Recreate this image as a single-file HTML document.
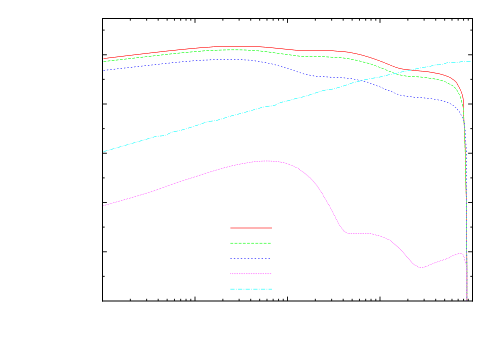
<!DOCTYPE html><html><head><meta charset="utf-8"><style>html,body{margin:0;padding:0;background:#fff;font-family:"Liberation Sans",sans-serif}svg{display:block}</style></head><body>
<svg width="500" height="350" viewBox="0 0 500 350">
<rect width="500" height="350" fill="#fff"/>
<g fill="none" stroke-width="0.60" stroke-linejoin="round">
<path d="M103.50,58.50 L106.44,58.49 L109.71,57.52 L114.78,57.49 L118.12,56.50 L122.96,56.50 L126.34,55.51 L131.34,55.50 L134.72,54.51 L139.68,54.50 L139.89,54.47 L143.13,53.51 L148.35,53.48 L151.63,52.52 L156.86,52.50 L160.42,51.50 L165.67,51.49 L169.32,50.50 L175.00,50.50 L178.82,49.51 L184.87,49.49 L189.03,48.50 L195.54,48.49 L200.00,47.50 L208.64,47.49 L210.69,47.12 L213.46,46.51 L213.64,46.50 L260.00,46.50 L262.79,46.97 L265.54,47.50 L272.19,47.51 L276.09,48.50 L281.99,48.50 L285.90,49.49 L291.93,49.50 L294.31,50.14 L296.09,50.50 L333.14,50.50 L334.76,50.95 L337.59,51.50 L345.00,51.50 L346.68,51.97 L348.14,52.48 L351.68,52.51 L353.51,53.46 L353.71,53.50 L356.49,53.52 L358.33,54.50 L360.68,54.50 L360.90,54.57 L362.24,55.49 L364.32,55.51 L365.66,56.47 L367.68,56.50 L367.86,56.56 L368.95,57.40 L369.15,57.50 L370.89,57.50 L372.12,58.50 L373.80,58.50 L373.97,58.59 L375.02,59.49 L376.60,59.50 L376.78,59.54 L377.71,60.38 L377.90,60.50 L379.33,60.50 L379.55,60.58 L380.45,61.42 L380.67,61.50 L382.09,61.50 L383.02,62.41 L383.20,62.50 L384.59,62.50 L385.61,63.50 L387.00,63.50 L387.93,64.40 L388.12,64.50 L389.34,64.50 L389.56,64.55 L390.44,65.45 L390.65,65.50 L391.79,65.50 L391.97,65.54 L392.83,66.44 L393.01,66.50 L394.34,66.50 L394.55,66.60 L395.44,67.38 L395.65,67.50 L397.30,67.50 L397.48,67.56 L398.73,68.46 L398.93,68.50 L401.28,68.50 L402.76,69.15 L403.70,69.50 L408.13,69.50 L411.86,70.49 L417.95,70.51 L420.46,71.10 L422.77,71.50 L428.14,71.52 L430.68,72.50 L433.91,72.50 L436.10,73.50 L439.12,73.50 L440.66,74.42 L440.87,74.50 L442.87,74.50 L444.15,75.50 L445.87,75.51 L447.01,76.50 L448.42,76.50 L448.60,76.60 L449.37,77.48 L450.59,77.53 L451.25,78.50 L452.00,78.50 L452.15,78.64 L452.64,79.50 L453.38,79.50 L453.89,80.37 L454.05,80.50 L454.66,80.50 L454.80,80.58 L455.24,81.50 L455.50,81.50 L455.50,81.65 L455.60,81.82 L456.39,82.18 L456.50,82.36 L456.50,83.03 L456.62,83.20 L457.49,83.86 L457.50,85.00 L458.36,85.58 L458.50,85.75 L458.50,86.56 L458.55,86.72 L459.49,87.40 L459.52,88.62 L460.43,89.37 L460.50,89.54 L460.50,90.73 L461.44,91.65 L461.50,91.85 L461.51,93.35 L462.42,94.46 L462.50,94.63 L462.50,97.00 L463.23,98.48 L463.50,99.21 L463.50,116.27 L463.64,118.64 L463.86,121.14 L464.50,126.09 L464.50,138.92 L465.07,144.43 L465.50,150.00 L465.50,181.41 L466.09,189.27 L466.50,197.20 L466.50,250.44 L466.76,265.72 L466.84,275.63 L466.75,301.00" stroke="#ff0000"/>
<path d="M103.50,61.50 L106.65,61.49 L110.12,60.51 L115.39,60.50 L118.93,59.52 L124.36,59.48 L127.78,58.52 L133.06,58.50 L136.71,57.50 L142.01,57.50 L145.57,56.50 L150.94,56.48 L154.46,55.50 L159.50,55.50 L163.13,54.50 L168.33,54.50 L172.03,53.52 L177.97,53.50 L182.05,52.50 L188.49,52.50 L193.13,51.50 L200.00,51.50 L205.00,50.50 L216.69,50.50 L220.92,50.15 L226.57,49.78 L229.64,49.65 L232.81,49.62 L238.36,49.66 L242.02,49.80 L245.89,50.08 L248.71,50.50 L257.61,50.50 L259.30,50.84 L261.99,51.50 L267.03,51.52 L270.00,52.50 L274.28,52.50 L277.21,53.50 L281.57,53.53 L284.64,54.50 L289.30,54.52 L292.19,55.49 L296.64,55.53 L300.00,56.50 L324.82,56.50 L331.78,57.49 L341.30,57.50 L343.14,57.94 L345.00,58.50 L348.91,58.51 L351.10,59.50 L353.91,59.50 L354.11,59.53 L355.89,60.46 L356.10,60.50 L358.71,60.50 L360.46,61.50 L362.59,61.53 L363.90,62.49 L366.10,62.50 L366.30,62.57 L367.97,63.50 L370.00,63.50 L371.09,64.42 L371.30,64.50 L372.85,64.50 L373.03,64.62 L373.91,65.42 L374.09,65.50 L375.62,65.52 L376.65,66.50 L378.13,66.50 L378.32,66.63 L379.13,67.41 L379.34,67.50 L380.66,67.50 L380.88,67.60 L381.70,68.40 L381.89,68.50 L383.19,68.50 L383.37,68.56 L384.24,69.43 L384.41,69.50 L385.77,69.50 L386.82,70.50 L388.12,70.50 L388.31,70.55 L389.13,71.37 L389.34,71.50 L390.65,71.50 L390.86,71.63 L391.61,72.42 L391.79,72.50 L393.01,72.50 L393.18,72.57 L394.13,73.48 L395.88,73.50 L397.21,74.48 L399.53,74.50 L401.29,75.50 L404.31,75.50 L406.09,76.13 L407.40,76.50 L416.83,76.50 L419.76,76.96 L422.41,77.50 L427.05,77.52 L429.32,78.49 L433.91,78.53 L435.90,79.44 L436.11,79.50 L438.52,79.50 L440.00,80.50 L442.36,80.52 L443.59,81.44 L443.78,81.50 L445.22,81.50 L446.02,82.36 L446.20,82.50 L447.22,82.50 L447.38,82.58 L448.01,83.47 L449.02,83.50 L449.21,83.66 L449.79,84.47 L450.96,84.50 L451.79,85.50 L452.63,85.50 L452.81,85.64 L453.19,86.37 L453.36,86.50 L454.00,86.54 L454.42,87.48 L454.55,87.50 L454.50,87.45 L454.53,87.58 L455.48,87.99 L455.50,88.63 L455.64,88.81 L456.35,89.19 L456.50,89.37 L456.50,90.07 L457.50,90.71 L457.50,91.65 L458.50,92.47 L458.50,93.58 L459.50,94.43 L459.50,95.58 L459.57,95.76 L460.46,96.63 L460.50,96.80 L460.50,98.33 L461.50,99.67 L461.50,102.13 L461.76,102.70 L462.50,104.00 L462.50,106.17 L462.55,106.35 L463.50,108.00 L463.50,116.87 L463.80,120.47 L464.50,125.90 L464.51,140.36 L465.06,147.28 L465.50,154.20 L465.50,181.23 L466.09,189.27 L466.50,197.20 L466.50,250.44 L466.76,265.72 L466.84,275.63 L466.75,301.00" stroke="#fff" stroke-width="0.90" stroke-dasharray="2.78,1.39"/>
<path d="M103.50,61.50 L106.65,61.49 L110.12,60.51 L115.39,60.50 L118.93,59.52 L124.36,59.48 L127.78,58.52 L133.06,58.50 L136.71,57.50 L142.01,57.50 L145.57,56.50 L150.94,56.48 L154.46,55.50 L159.50,55.50 L163.13,54.50 L168.33,54.50 L172.03,53.52 L177.97,53.50 L182.05,52.50 L188.49,52.50 L193.13,51.50 L200.00,51.50 L205.00,50.50 L216.69,50.50 L220.92,50.15 L226.57,49.78 L229.64,49.65 L232.81,49.62 L238.36,49.66 L242.02,49.80 L245.89,50.08 L248.71,50.50 L257.61,50.50 L259.30,50.84 L261.99,51.50 L267.03,51.52 L270.00,52.50 L274.28,52.50 L277.21,53.50 L281.57,53.53 L284.64,54.50 L289.30,54.52 L292.19,55.49 L296.64,55.53 L300.00,56.50 L324.82,56.50 L331.78,57.49 L341.30,57.50 L343.14,57.94 L345.00,58.50 L348.91,58.51 L351.10,59.50 L353.91,59.50 L354.11,59.53 L355.89,60.46 L356.10,60.50 L358.71,60.50 L360.46,61.50 L362.59,61.53 L363.90,62.49 L366.10,62.50 L366.30,62.57 L367.97,63.50 L370.00,63.50 L371.09,64.42 L371.30,64.50 L372.85,64.50 L373.03,64.62 L373.91,65.42 L374.09,65.50 L375.62,65.52 L376.65,66.50 L378.13,66.50 L378.32,66.63 L379.13,67.41 L379.34,67.50 L380.66,67.50 L380.88,67.60 L381.70,68.40 L381.89,68.50 L383.19,68.50 L383.37,68.56 L384.24,69.43 L384.41,69.50 L385.77,69.50 L386.82,70.50 L388.12,70.50 L388.31,70.55 L389.13,71.37 L389.34,71.50 L390.65,71.50 L390.86,71.63 L391.61,72.42 L391.79,72.50 L393.01,72.50 L393.18,72.57 L394.13,73.48 L395.88,73.50 L397.21,74.48 L399.53,74.50 L401.29,75.50 L404.31,75.50 L406.09,76.13 L407.40,76.50 L416.83,76.50 L419.76,76.96 L422.41,77.50 L427.05,77.52 L429.32,78.49 L433.91,78.53 L435.90,79.44 L436.11,79.50 L438.52,79.50 L440.00,80.50 L442.36,80.52 L443.59,81.44 L443.78,81.50 L445.22,81.50 L446.02,82.36 L446.20,82.50 L447.22,82.50 L447.38,82.58 L448.01,83.47 L449.02,83.50 L449.21,83.66 L449.79,84.47 L450.96,84.50 L451.79,85.50 L452.63,85.50 L452.81,85.64 L453.19,86.37 L453.36,86.50 L454.00,86.54 L454.42,87.48 L454.55,87.50 L454.50,87.45 L454.53,87.58 L455.48,87.99 L455.50,88.63 L455.64,88.81 L456.35,89.19 L456.50,89.37 L456.50,90.07 L457.50,90.71 L457.50,91.65 L458.50,92.47 L458.50,93.58 L459.50,94.43 L459.50,95.58 L459.57,95.76 L460.46,96.63 L460.50,96.80 L460.50,98.33 L461.50,99.67 L461.50,102.13 L461.76,102.70 L462.50,104.00 L462.50,106.17 L462.55,106.35 L463.50,108.00 L463.50,116.87 L463.80,120.47 L464.50,125.90 L464.51,140.36 L465.06,147.28 L465.50,154.20 L465.50,181.23 L466.09,189.27 L466.50,197.20 L466.50,250.44 L466.76,265.72 L466.84,275.63 L466.75,301.00" stroke="#00ff00" stroke-dasharray="2.78,1.39"/>
<path d="M103.50,70.50 L105.28,70.50 L108.97,69.50 L114.27,69.48 L117.81,68.50 L123.04,68.50 L126.63,67.51 L132.06,67.49 L135.68,66.50 L140.92,66.50 L144.66,65.50 L150.00,65.50 L153.61,64.50 L158.95,64.50 L162.59,63.50 L168.13,63.49 L172.03,62.50 L177.97,62.50 L182.25,61.50 L188.85,61.50 L193.72,60.50 L201.55,60.50 L203.09,60.35 L207.53,60.05 L209.33,59.82 L211.23,59.50 L242.95,59.50 L245.24,59.91 L248.33,60.18 L250.00,60.50 L254.51,60.50 L257.00,61.50 L260.59,61.50 L262.88,62.50 L266.28,62.50 L268.49,63.49 L271.27,63.50 L271.46,63.57 L272.93,64.50 L275.08,64.50 L276.57,65.50 L278.54,65.50 L278.73,65.55 L280.00,66.50 L281.92,66.50 L282.12,66.59 L283.25,67.44 L283.43,67.50 L285.18,67.50 L285.36,67.56 L286.59,68.50 L288.49,68.53 L289.55,69.38 L289.77,69.50 L291.52,69.50 L292.69,70.48 L294.49,70.51 L295.52,71.41 L295.70,71.50 L297.31,71.50 L298.48,72.47 L300.22,72.50 L300.43,72.62 L301.38,73.46 L301.56,73.50 L303.15,73.50 L303.35,73.57 L304.46,74.28 L304.89,74.50 L307.72,74.50 L310.00,75.50 L313.04,75.50 L314.49,76.15 L315.46,76.50 L325.00,76.50 L331.00,77.50 L342.76,77.50 L344.60,77.86 L347.23,78.50 L352.19,78.52 L354.54,79.50 L357.24,79.51 L358.71,80.47 L361.33,80.50 L361.54,80.55 L363.61,81.50 L366.32,81.52 L367.67,82.50 L369.18,82.50 L370.04,83.41 L370.21,83.50 L371.34,83.50 L371.55,83.56 L372.44,84.43 L372.64,84.50 L374.10,84.50 L375.27,85.50 L376.90,85.50 L377.08,85.59 L378.16,86.50 L379.81,86.50 L380.85,87.50 L382.22,87.50 L382.99,88.46 L383.16,88.50 L384.00,88.50 L384.18,88.55 L385.00,89.50 L386.39,89.50 L386.56,89.54 L387.65,90.49 L389.36,90.52 L390.46,91.49 L391.93,91.50 L392.12,91.67 L392.84,92.50 L394.01,92.50 L394.19,92.62 L395.00,93.50 L396.39,93.50 L396.56,93.55 L397.65,94.50 L399.35,94.50 L400.63,95.46 L400.83,95.50 L403.71,95.52 L406.28,96.49 L411.11,96.50 L412.24,96.83 L413.84,97.47 L414.03,97.50 L422.89,97.50 L426.39,98.50 L431.61,98.50 L431.82,98.52 L432.50,98.75 L434.35,99.49 L437.47,99.50 L437.66,99.54 L439.50,100.50 L442.12,100.50 L442.32,100.55 L443.67,101.48 L445.35,101.50 L445.55,101.59 L446.45,102.41 L446.66,102.50 L448.12,102.50 L449.07,103.50 L450.33,103.50 L451.21,104.50 L452.10,104.50 L452.29,104.66 L452.69,105.32 L452.88,105.50 L453.51,105.50 L453.65,105.58 L454.07,106.45 L454.21,106.50 L454.66,106.50 L454.83,106.61 L455.18,107.39 L455.35,107.50 L455.81,107.50 L455.95,107.61 L456.36,108.50 L456.63,108.50 L456.50,108.61 L457.47,109.06 L457.52,109.75 L458.50,110.21 L458.50,110.95 L459.31,111.44 L459.50,111.61 L459.50,112.39 L459.66,112.57 L460.41,113.08 L460.50,113.24 L460.50,114.28 L461.50,115.12 L461.50,116.58 L462.50,117.41 L462.50,118.25 L462.64,118.40 L463.38,118.90 L463.50,119.08 L463.50,120.58 L464.14,121.73 L464.47,122.48 L464.50,122.68 L464.52,127.27 L464.99,129.27 L465.50,132.00 L465.51,141.36 L466.03,145.45 L466.50,150.00 L466.50,251.22 L466.71,262.41 L466.82,272.69 L466.75,301.00" stroke="#fff" stroke-width="0.90" stroke-dasharray="1.39,2.08"/>
<path d="M103.50,70.50 L105.28,70.50 L108.97,69.50 L114.27,69.48 L117.81,68.50 L123.04,68.50 L126.63,67.51 L132.06,67.49 L135.68,66.50 L140.92,66.50 L144.66,65.50 L150.00,65.50 L153.61,64.50 L158.95,64.50 L162.59,63.50 L168.13,63.49 L172.03,62.50 L177.97,62.50 L182.25,61.50 L188.85,61.50 L193.72,60.50 L201.55,60.50 L203.09,60.35 L207.53,60.05 L209.33,59.82 L211.23,59.50 L242.95,59.50 L245.24,59.91 L248.33,60.18 L250.00,60.50 L254.51,60.50 L257.00,61.50 L260.59,61.50 L262.88,62.50 L266.28,62.50 L268.49,63.49 L271.27,63.50 L271.46,63.57 L272.93,64.50 L275.08,64.50 L276.57,65.50 L278.54,65.50 L278.73,65.55 L280.00,66.50 L281.92,66.50 L282.12,66.59 L283.25,67.44 L283.43,67.50 L285.18,67.50 L285.36,67.56 L286.59,68.50 L288.49,68.53 L289.55,69.38 L289.77,69.50 L291.52,69.50 L292.69,70.48 L294.49,70.51 L295.52,71.41 L295.70,71.50 L297.31,71.50 L298.48,72.47 L300.22,72.50 L300.43,72.62 L301.38,73.46 L301.56,73.50 L303.15,73.50 L303.35,73.57 L304.46,74.28 L304.89,74.50 L307.72,74.50 L310.00,75.50 L313.04,75.50 L314.49,76.15 L315.46,76.50 L325.00,76.50 L331.00,77.50 L342.76,77.50 L344.60,77.86 L347.23,78.50 L352.19,78.52 L354.54,79.50 L357.24,79.51 L358.71,80.47 L361.33,80.50 L361.54,80.55 L363.61,81.50 L366.32,81.52 L367.67,82.50 L369.18,82.50 L370.04,83.41 L370.21,83.50 L371.34,83.50 L371.55,83.56 L372.44,84.43 L372.64,84.50 L374.10,84.50 L375.27,85.50 L376.90,85.50 L377.08,85.59 L378.16,86.50 L379.81,86.50 L380.85,87.50 L382.22,87.50 L382.99,88.46 L383.16,88.50 L384.00,88.50 L384.18,88.55 L385.00,89.50 L386.39,89.50 L386.56,89.54 L387.65,90.49 L389.36,90.52 L390.46,91.49 L391.93,91.50 L392.12,91.67 L392.84,92.50 L394.01,92.50 L394.19,92.62 L395.00,93.50 L396.39,93.50 L396.56,93.55 L397.65,94.50 L399.35,94.50 L400.63,95.46 L400.83,95.50 L403.71,95.52 L406.28,96.49 L411.11,96.50 L412.24,96.83 L413.84,97.47 L414.03,97.50 L422.89,97.50 L426.39,98.50 L431.61,98.50 L431.82,98.52 L432.50,98.75 L434.35,99.49 L437.47,99.50 L437.66,99.54 L439.50,100.50 L442.12,100.50 L442.32,100.55 L443.67,101.48 L445.35,101.50 L445.55,101.59 L446.45,102.41 L446.66,102.50 L448.12,102.50 L449.07,103.50 L450.33,103.50 L451.21,104.50 L452.10,104.50 L452.29,104.66 L452.69,105.32 L452.88,105.50 L453.51,105.50 L453.65,105.58 L454.07,106.45 L454.21,106.50 L454.66,106.50 L454.83,106.61 L455.18,107.39 L455.35,107.50 L455.81,107.50 L455.95,107.61 L456.36,108.50 L456.63,108.50 L456.50,108.61 L457.47,109.06 L457.52,109.75 L458.50,110.21 L458.50,110.95 L459.31,111.44 L459.50,111.61 L459.50,112.39 L459.66,112.57 L460.41,113.08 L460.50,113.24 L460.50,114.28 L461.50,115.12 L461.50,116.58 L462.50,117.41 L462.50,118.25 L462.64,118.40 L463.38,118.90 L463.50,119.08 L463.50,120.58 L464.14,121.73 L464.47,122.48 L464.50,122.68 L464.52,127.27 L464.99,129.27 L465.50,132.00 L465.51,141.36 L466.03,145.45 L466.50,150.00 L466.50,251.22 L466.71,262.41 L466.82,272.69 L466.75,301.00" stroke="#0000ff" stroke-dasharray="1.39,2.08"/>
<path d="M103.50,205.50 L105.03,205.50 L106.35,204.56 L106.54,204.50 L108.40,204.50 L108.59,204.45 L109.88,203.53 L111.89,203.50 L112.08,203.46 L113.35,202.56 L113.53,202.50 L115.52,202.50 L116.96,201.51 L119.11,201.49 L120.55,200.50 L122.54,200.50 L122.72,200.44 L123.99,199.54 L124.17,199.50 L126.18,199.48 L127.47,198.56 L127.65,198.50 L129.51,198.50 L129.70,198.46 L131.01,197.51 L133.11,197.49 L134.46,196.50 L136.42,196.50 L136.62,196.42 L137.81,195.53 L139.84,195.50 L141.07,194.60 L141.28,194.50 L143.17,194.50 L144.45,193.54 L144.67,193.50 L146.41,193.50 L147.74,192.51 L149.54,192.50 L149.77,192.43 L150.91,191.54 L151.13,191.50 L152.85,191.48 L154.07,190.50 L155.83,190.48 L156.95,189.51 L158.57,189.50 L158.75,189.42 L159.80,188.50 L161.34,188.50 L161.51,188.41 L162.53,187.50 L164.06,187.50 L164.23,187.39 L165.09,186.60 L165.26,186.50 L166.83,186.48 L167.91,185.50 L169.59,185.47 L170.56,184.60 L170.76,184.50 L172.38,184.50 L173.44,183.58 L173.66,183.50 L175.23,183.50 L175.45,183.37 L176.34,182.62 L176.56,182.50 L178.24,182.50 L179.45,181.53 L181.19,181.50 L181.37,181.44 L182.48,180.53 L184.28,180.50 L184.45,180.43 L185.50,179.59 L185.67,179.50 L187.40,179.50 L187.57,179.43 L188.78,178.50 L190.52,178.50 L190.69,178.44 L191.76,177.59 L191.94,177.50 L193.79,177.48 L194.94,176.56 L195.14,176.50 L196.74,176.50 L196.95,176.45 L198.01,175.61 L198.22,175.50 L200.00,175.50 L201.10,174.61 L201.31,174.50 L203.05,174.50 L204.30,173.52 L206.22,173.48 L207.50,172.50 L209.33,172.50 L210.67,171.50 L212.49,171.50 L212.68,171.43 L213.77,170.59 L213.95,170.50 L215.86,170.50 L217.12,169.58 L217.30,169.50 L219.32,169.48 L220.68,168.51 L222.73,168.50 L222.91,168.43 L224.19,167.53 L226.50,167.46 L228.04,166.50 L230.46,166.47 L231.94,165.57 L232.14,165.50 L234.54,165.50 L234.72,165.47 L236.50,164.51 L239.54,164.48 L241.57,163.50 L244.99,163.50 L247.60,162.50 L251.09,162.50 L253.51,161.50 L260.00,161.50 L262.05,161.22 L263.51,161.08 L265.89,160.97 L267.77,160.97 L270.46,161.17 L272.77,161.50 L278.71,161.51 L281.30,162.50 L284.12,162.50 L284.33,162.56 L285.67,163.46 L285.87,163.50 L287.53,163.50 L287.70,163.57 L288.58,164.38 L288.77,164.50 L290.22,164.50 L291.23,165.46 L291.41,165.50 L292.61,165.50 L292.78,165.60 L293.46,166.38 L293.64,166.50 L294.79,166.50 L295.63,167.50 L296.73,167.50 L296.89,167.65 L297.55,168.50 L298.53,168.50 L298.70,168.68 L299.23,169.50 L300.00,169.50 L300.20,169.58 L300.76,170.50 L301.59,170.50 L302.05,171.32 L302.20,171.50 L302.92,171.50 L303.36,172.37 L303.51,172.50 L304.13,172.50 L304.64,173.50 L305.37,173.51 L305.88,174.50 L306.50,174.50 L306.65,174.71 L306.94,175.33 L307.08,175.50 L307.63,175.50 L307.77,175.66 L308.18,176.50 L308.74,176.50 L309.19,177.50 L309.66,177.50 L309.83,177.57 L310.00,178.00 L310.42,178.17 L310.50,178.33 L310.50,178.80 L311.50,179.25 L311.50,179.81 L312.36,180.21 L312.50,180.35 L312.50,180.88 L313.50,181.43 L313.50,182.01 L313.68,182.16 L314.34,182.47 L314.50,182.63 L314.50,183.14 L314.62,183.32 L315.38,183.68 L315.50,183.86 L315.50,184.37 L315.65,184.53 L316.31,184.85 L316.50,185.01 L316.50,185.60 L316.66,185.75 L317.50,186.18 L317.50,186.88 L318.50,187.46 L318.50,188.23 L319.31,188.72 L319.50,188.89 L319.50,189.61 L319.67,189.80 L320.33,190.20 L320.50,190.39 L320.50,191.15 L320.65,191.33 L321.47,191.85 L321.50,192.85 L322.41,193.49 L322.50,193.65 L322.50,194.60 L323.37,195.24 L323.50,195.41 L323.51,196.41 L324.50,197.13 L324.50,198.09 L324.70,198.29 L325.30,198.71 L325.50,198.91 L325.52,199.86 L326.31,200.39 L326.50,200.57 L326.50,201.39 L326.56,201.55 L327.50,202.19 L327.50,203.12 L327.65,203.28 L328.36,203.75 L328.50,203.91 L328.50,204.74 L328.55,204.91 L329.31,205.44 L329.50,205.62 L329.50,206.59 L330.50,207.41 L330.50,208.39 L330.65,208.58 L331.38,209.12 L331.50,209.30 L331.50,210.32 L332.50,211.14 L332.50,212.26 L333.50,213.08 L333.52,214.28 L334.44,215.00 L334.50,215.19 L334.50,216.18 L335.50,217.03 L335.50,218.13 L336.50,218.97 L336.50,220.08 L337.50,220.92 L337.50,222.04 L338.36,222.72 L338.50,222.88 L338.50,223.85 L338.57,224.01 L339.50,224.69 L339.50,225.60 L339.68,225.80 L340.31,226.20 L340.50,226.39 L340.52,227.25 L341.50,227.86 L341.50,228.59 L342.35,229.03 L342.50,229.18 L342.50,229.66 L342.60,229.83 L343.41,230.18 L343.50,230.34 L343.50,230.65 L343.76,230.50 L344.19,231.47 L344.92,231.50 L345.42,232.32 L345.60,232.50 L346.40,232.50 L346.58,232.57 L347.28,233.31 L347.46,233.45 L347.65,233.50 L371.60,233.50 L371.78,233.58 L373.00,234.50 L375.18,234.50 L376.54,235.45 L376.76,235.50 L379.35,235.51 L380.45,236.39 L380.67,236.50 L382.18,236.50 L383.23,237.50 L384.56,237.51 L385.44,238.49 L386.79,238.50 L387.65,239.44 L387.81,239.50 L388.85,239.50 L389.40,240.31 L389.60,240.50 L390.39,240.50 L390.57,240.71 L390.92,241.32 L391.09,241.50 L391.72,241.50 L391.86,241.58 L392.29,242.44 L392.43,242.50 L392.98,242.50 L393.12,242.70 L393.40,243.31 L393.55,243.50 L394.15,243.50 L394.64,244.50 L395.35,244.50 L395.82,245.50 L396.38,245.50 L396.51,245.58 L396.92,246.50 L397.50,246.50 L397.66,246.72 L398.00,247.50 L398.66,247.50 L399.08,248.36 L399.23,248.50 L399.67,248.50 L399.83,248.58 L400.00,249.00 L400.43,249.17 L400.50,249.34 L400.50,249.80 L401.50,250.23 L401.50,250.79 L401.61,250.93 L402.27,251.21 L402.50,251.36 L402.50,251.85 L402.59,252.02 L403.40,252.37 L403.50,252.54 L403.50,252.99 L403.57,253.13 L404.47,253.55 L404.50,254.15 L404.62,254.32 L405.38,254.68 L405.50,254.85 L405.50,255.33 L405.59,255.48 L406.50,255.91 L406.50,256.60 L407.38,257.03 L407.50,257.18 L407.50,257.65 L407.61,257.82 L408.39,258.18 L408.50,258.35 L408.50,258.85 L408.70,259.02 L409.35,259.33 L409.50,259.48 L409.50,260.07 L409.69,260.22 L410.50,260.64 L410.50,261.19 L410.55,261.33 L411.48,261.74 L411.50,262.30 L411.87,262.50 L412.17,262.50 L412.32,262.71 L412.65,263.47 L413.36,263.54 L413.71,264.27 L413.87,264.50 L414.51,264.50 L414.67,264.67 L415.13,265.49 L416.09,265.50 L416.79,266.47 L418.00,266.50 L418.84,267.44 L419.04,267.50 L423.88,267.50 L424.05,267.45 L425.16,266.51 L426.65,266.50 L426.86,266.45 L427.82,265.50 L429.02,265.50 L429.18,265.47 L430.01,264.51 L431.20,264.50 L431.38,264.43 L432.15,263.61 L432.36,263.50 L433.65,263.50 L433.85,263.42 L434.82,262.51 L436.40,262.50 L436.57,262.45 L437.61,261.56 L437.79,261.50 L439.34,261.50 L439.56,261.39 L440.45,260.61 L440.67,260.50 L442.45,260.49 L443.70,259.51 L445.34,259.50 L445.53,259.44 L446.56,258.50 L447.84,258.50 L448.04,258.35 L448.77,257.50 L449.77,257.50 L449.93,257.41 L450.57,256.52 L451.60,256.50 L451.78,256.43 L452.57,255.50 L453.82,255.50 L454.01,255.43 L454.90,254.59 L455.07,254.50 L456.75,254.50 L456.97,254.42 L458.06,253.52 L461.52,253.50 L461.69,253.61 L462.23,254.34 L462.41,254.50 L462.78,254.50 L462.82,254.70 L463.41,255.01 L463.50,255.17 L463.50,256.50 L464.28,257.27 L464.43,257.45 L464.50,257.62 L464.53,260.17 L465.00,261.00 L465.49,261.63 L465.50,263.26 L466.49,264.96 L466.50,272.00 L466.70,275.64 L466.76,281.18 L466.75,301.00" stroke="#fff" stroke-width="0.90" stroke-dasharray="0.69,1.04"/>
<path d="M103.50,205.50 L105.03,205.50 L106.35,204.56 L106.54,204.50 L108.40,204.50 L108.59,204.45 L109.88,203.53 L111.89,203.50 L112.08,203.46 L113.35,202.56 L113.53,202.50 L115.52,202.50 L116.96,201.51 L119.11,201.49 L120.55,200.50 L122.54,200.50 L122.72,200.44 L123.99,199.54 L124.17,199.50 L126.18,199.48 L127.47,198.56 L127.65,198.50 L129.51,198.50 L129.70,198.46 L131.01,197.51 L133.11,197.49 L134.46,196.50 L136.42,196.50 L136.62,196.42 L137.81,195.53 L139.84,195.50 L141.07,194.60 L141.28,194.50 L143.17,194.50 L144.45,193.54 L144.67,193.50 L146.41,193.50 L147.74,192.51 L149.54,192.50 L149.77,192.43 L150.91,191.54 L151.13,191.50 L152.85,191.48 L154.07,190.50 L155.83,190.48 L156.95,189.51 L158.57,189.50 L158.75,189.42 L159.80,188.50 L161.34,188.50 L161.51,188.41 L162.53,187.50 L164.06,187.50 L164.23,187.39 L165.09,186.60 L165.26,186.50 L166.83,186.48 L167.91,185.50 L169.59,185.47 L170.56,184.60 L170.76,184.50 L172.38,184.50 L173.44,183.58 L173.66,183.50 L175.23,183.50 L175.45,183.37 L176.34,182.62 L176.56,182.50 L178.24,182.50 L179.45,181.53 L181.19,181.50 L181.37,181.44 L182.48,180.53 L184.28,180.50 L184.45,180.43 L185.50,179.59 L185.67,179.50 L187.40,179.50 L187.57,179.43 L188.78,178.50 L190.52,178.50 L190.69,178.44 L191.76,177.59 L191.94,177.50 L193.79,177.48 L194.94,176.56 L195.14,176.50 L196.74,176.50 L196.95,176.45 L198.01,175.61 L198.22,175.50 L200.00,175.50 L201.10,174.61 L201.31,174.50 L203.05,174.50 L204.30,173.52 L206.22,173.48 L207.50,172.50 L209.33,172.50 L210.67,171.50 L212.49,171.50 L212.68,171.43 L213.77,170.59 L213.95,170.50 L215.86,170.50 L217.12,169.58 L217.30,169.50 L219.32,169.48 L220.68,168.51 L222.73,168.50 L222.91,168.43 L224.19,167.53 L226.50,167.46 L228.04,166.50 L230.46,166.47 L231.94,165.57 L232.14,165.50 L234.54,165.50 L234.72,165.47 L236.50,164.51 L239.54,164.48 L241.57,163.50 L244.99,163.50 L247.60,162.50 L251.09,162.50 L253.51,161.50 L260.00,161.50 L262.05,161.22 L263.51,161.08 L265.89,160.97 L267.77,160.97 L270.46,161.17 L272.77,161.50 L278.71,161.51 L281.30,162.50 L284.12,162.50 L284.33,162.56 L285.67,163.46 L285.87,163.50 L287.53,163.50 L287.70,163.57 L288.58,164.38 L288.77,164.50 L290.22,164.50 L291.23,165.46 L291.41,165.50 L292.61,165.50 L292.78,165.60 L293.46,166.38 L293.64,166.50 L294.79,166.50 L295.63,167.50 L296.73,167.50 L296.89,167.65 L297.55,168.50 L298.53,168.50 L298.70,168.68 L299.23,169.50 L300.00,169.50 L300.20,169.58 L300.76,170.50 L301.59,170.50 L302.05,171.32 L302.20,171.50 L302.92,171.50 L303.36,172.37 L303.51,172.50 L304.13,172.50 L304.64,173.50 L305.37,173.51 L305.88,174.50 L306.50,174.50 L306.65,174.71 L306.94,175.33 L307.08,175.50 L307.63,175.50 L307.77,175.66 L308.18,176.50 L308.74,176.50 L309.19,177.50 L309.66,177.50 L309.83,177.57 L310.00,178.00 L310.42,178.17 L310.50,178.33 L310.50,178.80 L311.50,179.25 L311.50,179.81 L312.36,180.21 L312.50,180.35 L312.50,180.88 L313.50,181.43 L313.50,182.01 L313.68,182.16 L314.34,182.47 L314.50,182.63 L314.50,183.14 L314.62,183.32 L315.38,183.68 L315.50,183.86 L315.50,184.37 L315.65,184.53 L316.31,184.85 L316.50,185.01 L316.50,185.60 L316.66,185.75 L317.50,186.18 L317.50,186.88 L318.50,187.46 L318.50,188.23 L319.31,188.72 L319.50,188.89 L319.50,189.61 L319.67,189.80 L320.33,190.20 L320.50,190.39 L320.50,191.15 L320.65,191.33 L321.47,191.85 L321.50,192.85 L322.41,193.49 L322.50,193.65 L322.50,194.60 L323.37,195.24 L323.50,195.41 L323.51,196.41 L324.50,197.13 L324.50,198.09 L324.70,198.29 L325.30,198.71 L325.50,198.91 L325.52,199.86 L326.31,200.39 L326.50,200.57 L326.50,201.39 L326.56,201.55 L327.50,202.19 L327.50,203.12 L327.65,203.28 L328.36,203.75 L328.50,203.91 L328.50,204.74 L328.55,204.91 L329.31,205.44 L329.50,205.62 L329.50,206.59 L330.50,207.41 L330.50,208.39 L330.65,208.58 L331.38,209.12 L331.50,209.30 L331.50,210.32 L332.50,211.14 L332.50,212.26 L333.50,213.08 L333.52,214.28 L334.44,215.00 L334.50,215.19 L334.50,216.18 L335.50,217.03 L335.50,218.13 L336.50,218.97 L336.50,220.08 L337.50,220.92 L337.50,222.04 L338.36,222.72 L338.50,222.88 L338.50,223.85 L338.57,224.01 L339.50,224.69 L339.50,225.60 L339.68,225.80 L340.31,226.20 L340.50,226.39 L340.52,227.25 L341.50,227.86 L341.50,228.59 L342.35,229.03 L342.50,229.18 L342.50,229.66 L342.60,229.83 L343.41,230.18 L343.50,230.34 L343.50,230.65 L343.76,230.50 L344.19,231.47 L344.92,231.50 L345.42,232.32 L345.60,232.50 L346.40,232.50 L346.58,232.57 L347.28,233.31 L347.46,233.45 L347.65,233.50 L371.60,233.50 L371.78,233.58 L373.00,234.50 L375.18,234.50 L376.54,235.45 L376.76,235.50 L379.35,235.51 L380.45,236.39 L380.67,236.50 L382.18,236.50 L383.23,237.50 L384.56,237.51 L385.44,238.49 L386.79,238.50 L387.65,239.44 L387.81,239.50 L388.85,239.50 L389.40,240.31 L389.60,240.50 L390.39,240.50 L390.57,240.71 L390.92,241.32 L391.09,241.50 L391.72,241.50 L391.86,241.58 L392.29,242.44 L392.43,242.50 L392.98,242.50 L393.12,242.70 L393.40,243.31 L393.55,243.50 L394.15,243.50 L394.64,244.50 L395.35,244.50 L395.82,245.50 L396.38,245.50 L396.51,245.58 L396.92,246.50 L397.50,246.50 L397.66,246.72 L398.00,247.50 L398.66,247.50 L399.08,248.36 L399.23,248.50 L399.67,248.50 L399.83,248.58 L400.00,249.00 L400.43,249.17 L400.50,249.34 L400.50,249.80 L401.50,250.23 L401.50,250.79 L401.61,250.93 L402.27,251.21 L402.50,251.36 L402.50,251.85 L402.59,252.02 L403.40,252.37 L403.50,252.54 L403.50,252.99 L403.57,253.13 L404.47,253.55 L404.50,254.15 L404.62,254.32 L405.38,254.68 L405.50,254.85 L405.50,255.33 L405.59,255.48 L406.50,255.91 L406.50,256.60 L407.38,257.03 L407.50,257.18 L407.50,257.65 L407.61,257.82 L408.39,258.18 L408.50,258.35 L408.50,258.85 L408.70,259.02 L409.35,259.33 L409.50,259.48 L409.50,260.07 L409.69,260.22 L410.50,260.64 L410.50,261.19 L410.55,261.33 L411.48,261.74 L411.50,262.30 L411.87,262.50 L412.17,262.50 L412.32,262.71 L412.65,263.47 L413.36,263.54 L413.71,264.27 L413.87,264.50 L414.51,264.50 L414.67,264.67 L415.13,265.49 L416.09,265.50 L416.79,266.47 L418.00,266.50 L418.84,267.44 L419.04,267.50 L423.88,267.50 L424.05,267.45 L425.16,266.51 L426.65,266.50 L426.86,266.45 L427.82,265.50 L429.02,265.50 L429.18,265.47 L430.01,264.51 L431.20,264.50 L431.38,264.43 L432.15,263.61 L432.36,263.50 L433.65,263.50 L433.85,263.42 L434.82,262.51 L436.40,262.50 L436.57,262.45 L437.61,261.56 L437.79,261.50 L439.34,261.50 L439.56,261.39 L440.45,260.61 L440.67,260.50 L442.45,260.49 L443.70,259.51 L445.34,259.50 L445.53,259.44 L446.56,258.50 L447.84,258.50 L448.04,258.35 L448.77,257.50 L449.77,257.50 L449.93,257.41 L450.57,256.52 L451.60,256.50 L451.78,256.43 L452.57,255.50 L453.82,255.50 L454.01,255.43 L454.90,254.59 L455.07,254.50 L456.75,254.50 L456.97,254.42 L458.06,253.52 L461.52,253.50 L461.69,253.61 L462.23,254.34 L462.41,254.50 L462.78,254.50 L462.82,254.70 L463.41,255.01 L463.50,255.17 L463.50,256.50 L464.28,257.27 L464.43,257.45 L464.50,257.62 L464.53,260.17 L465.00,261.00 L465.49,261.63 L465.50,263.26 L466.49,264.96 L466.50,272.00 L466.70,275.64 L466.76,281.18 L466.75,301.00" stroke="#ff00ff" stroke-dasharray="0.69,1.04"/>
<path d="M103.50,151.50 L105.03,151.50 L106.36,150.56 L106.55,150.50 L108.43,150.50 L108.62,150.42 L109.93,149.50 L111.98,149.49 L113.27,148.55 L113.46,148.50 L115.30,148.50 L115.49,148.45 L116.78,147.52 L118.80,147.50 L118.98,147.42 L120.27,146.50 L122.30,146.50 L123.59,145.59 L123.78,145.50 L125.81,145.48 L127.12,144.54 L127.30,144.50 L129.18,144.50 L129.37,144.41 L130.50,143.59 L130.69,143.50 L132.59,143.50 L132.78,143.44 L134.12,142.50 L136.06,142.50 L136.26,142.42 L137.43,141.58 L137.63,141.50 L139.61,141.50 L141.02,140.50 L143.05,140.50 L144.49,139.50 L146.58,139.47 L147.85,138.55 L148.06,138.50 L150.00,138.50 L151.27,137.54 L151.46,137.50 L153.24,137.47 L154.32,136.70 L154.71,136.50 L157.97,136.50 L158.95,136.27 L161.34,135.83 L162.47,135.52 L165.23,135.50 L165.45,135.42 L166.47,134.52 L167.70,134.50 L167.87,134.38 L168.52,133.50 L169.49,133.50 L169.66,133.46 L170.36,132.60 L170.55,132.50 L172.00,132.50 L173.32,131.54 L173.52,131.50 L176.34,131.50 L177.46,131.06 L178.66,130.50 L181.10,130.50 L181.31,130.42 L182.63,129.52 L184.57,129.50 L184.76,129.45 L185.91,128.57 L186.12,128.50 L187.89,128.50 L188.10,128.42 L189.26,127.53 L191.21,127.50 L192.31,126.61 L192.51,126.50 L194.23,126.50 L194.45,126.38 L195.47,125.54 L195.66,125.50 L197.26,125.50 L198.53,124.50 L200.23,124.50 L200.45,124.38 L201.48,123.50 L203.12,123.50 L204.14,122.59 L204.31,122.50 L206.10,122.50 L207.54,121.53 L210.71,121.50 L213.09,120.90 L214.26,120.53 L217.31,120.50 L218.82,119.50 L220.76,119.49 L221.91,118.58 L222.12,118.50 L223.89,118.50 L224.10,118.41 L225.26,117.50 L227.02,117.50 L228.30,116.52 L230.23,116.50 L230.45,116.43 L231.71,115.56 L231.90,115.50 L234.08,115.50 L235.71,114.50 L238.00,114.50 L239.50,113.50 L241.68,113.50 L243.12,112.54 L243.31,112.50 L245.24,112.50 L245.46,112.43 L246.87,111.50 L248.91,111.50 L250.23,110.58 L250.46,110.50 L252.32,110.50 L252.51,110.43 L253.79,109.50 L255.74,109.50 L255.92,109.42 L257.26,108.50 L259.23,108.50 L259.45,108.44 L260.68,107.56 L260.87,107.50 L262.83,107.50 L264.49,106.52 L268.34,106.49 L271.12,106.02 L271.88,105.81 L272.68,105.50 L274.87,105.50 L275.08,105.42 L276.02,104.50 L277.20,104.50 L277.36,104.38 L278.00,103.53 L279.19,103.50 L280.14,102.53 L281.88,102.50 L283.26,101.58 L283.45,101.50 L285.96,101.50 L286.14,101.44 L287.69,100.58 L287.90,100.50 L290.10,100.50 L291.44,99.52 L293.38,99.50 L293.56,99.44 L294.90,98.50 L297.29,98.49 L299.33,97.50 L301.69,97.50 L301.91,97.40 L303.14,96.56 L303.33,96.50 L305.34,96.50 L306.76,95.50 L308.68,95.50 L310.00,94.50 L311.89,94.50 L312.98,93.58 L313.15,93.50 L314.74,93.50 L314.93,93.41 L315.90,92.61 L316.11,92.50 L317.89,92.50 L318.10,92.40 L319.28,91.50 L321.06,91.50 L321.24,91.43 L322.50,90.53 L325.00,90.50 L326.33,89.85 L327.33,89.50 L331.88,89.50 L332.09,89.45 L332.54,89.24 L333.90,88.50 L336.17,88.48 L337.40,87.53 L339.33,87.50 L340.68,86.50 L342.67,86.50 L343.93,85.55 L344.10,85.50 L345.91,85.49 L347.11,84.50 L348.64,84.50 L348.82,84.33 L349.35,83.62 L349.55,83.50 L351.33,83.50 L351.53,83.40 L352.72,82.58 L352.91,82.50 L355.07,82.50 L356.69,81.52 L359.09,81.50 L359.31,81.42 L360.68,80.58 L360.90,80.50 L363.29,80.48 L364.90,79.52 L367.64,79.47 L369.54,78.50 L372.78,78.50 L375.36,77.53 L378.86,77.50 L379.08,77.47 L380.91,76.51 L383.31,76.50 L383.49,76.44 L384.92,75.50 L387.07,75.50 L388.66,74.53 L391.51,74.48 L393.91,73.50 L396.68,73.50 L396.88,73.46 L398.18,72.50 L400.47,72.49 L402.39,71.50 L405.54,71.47 L407.61,70.50 L410.46,70.50 L412.15,69.54 L412.35,69.50 L414.73,69.48 L416.33,68.51 L418.87,68.50 L419.09,68.47 L420.92,67.55 L421.14,67.50 L424.64,67.50 L427.22,66.51 L430.47,66.50 L431.87,65.54 L432.05,65.50 L433.89,65.50 L435.23,64.91 L436.29,64.66 L438.33,64.60 L439.11,64.50 L442.43,64.50 L442.79,64.30 L443.91,63.51 L445.86,63.50 L446.76,62.61 L446.94,62.50 L458.90,62.50 L459.49,62.25 L460.77,61.55 L460.95,61.50 L471.00,61.50" stroke="#fff" stroke-width="0.90" stroke-dasharray="4.17,1.39,0.69,1.39"/>
<path d="M103.50,151.50 L105.03,151.50 L106.36,150.56 L106.55,150.50 L108.43,150.50 L108.62,150.42 L109.93,149.50 L111.98,149.49 L113.27,148.55 L113.46,148.50 L115.30,148.50 L115.49,148.45 L116.78,147.52 L118.80,147.50 L118.98,147.42 L120.27,146.50 L122.30,146.50 L123.59,145.59 L123.78,145.50 L125.81,145.48 L127.12,144.54 L127.30,144.50 L129.18,144.50 L129.37,144.41 L130.50,143.59 L130.69,143.50 L132.59,143.50 L132.78,143.44 L134.12,142.50 L136.06,142.50 L136.26,142.42 L137.43,141.58 L137.63,141.50 L139.61,141.50 L141.02,140.50 L143.05,140.50 L144.49,139.50 L146.58,139.47 L147.85,138.55 L148.06,138.50 L150.00,138.50 L151.27,137.54 L151.46,137.50 L153.24,137.47 L154.32,136.70 L154.71,136.50 L157.97,136.50 L158.95,136.27 L161.34,135.83 L162.47,135.52 L165.23,135.50 L165.45,135.42 L166.47,134.52 L167.70,134.50 L167.87,134.38 L168.52,133.50 L169.49,133.50 L169.66,133.46 L170.36,132.60 L170.55,132.50 L172.00,132.50 L173.32,131.54 L173.52,131.50 L176.34,131.50 L177.46,131.06 L178.66,130.50 L181.10,130.50 L181.31,130.42 L182.63,129.52 L184.57,129.50 L184.76,129.45 L185.91,128.57 L186.12,128.50 L187.89,128.50 L188.10,128.42 L189.26,127.53 L191.21,127.50 L192.31,126.61 L192.51,126.50 L194.23,126.50 L194.45,126.38 L195.47,125.54 L195.66,125.50 L197.26,125.50 L198.53,124.50 L200.23,124.50 L200.45,124.38 L201.48,123.50 L203.12,123.50 L204.14,122.59 L204.31,122.50 L206.10,122.50 L207.54,121.53 L210.71,121.50 L213.09,120.90 L214.26,120.53 L217.31,120.50 L218.82,119.50 L220.76,119.49 L221.91,118.58 L222.12,118.50 L223.89,118.50 L224.10,118.41 L225.26,117.50 L227.02,117.50 L228.30,116.52 L230.23,116.50 L230.45,116.43 L231.71,115.56 L231.90,115.50 L234.08,115.50 L235.71,114.50 L238.00,114.50 L239.50,113.50 L241.68,113.50 L243.12,112.54 L243.31,112.50 L245.24,112.50 L245.46,112.43 L246.87,111.50 L248.91,111.50 L250.23,110.58 L250.46,110.50 L252.32,110.50 L252.51,110.43 L253.79,109.50 L255.74,109.50 L255.92,109.42 L257.26,108.50 L259.23,108.50 L259.45,108.44 L260.68,107.56 L260.87,107.50 L262.83,107.50 L264.49,106.52 L268.34,106.49 L271.12,106.02 L271.88,105.81 L272.68,105.50 L274.87,105.50 L275.08,105.42 L276.02,104.50 L277.20,104.50 L277.36,104.38 L278.00,103.53 L279.19,103.50 L280.14,102.53 L281.88,102.50 L283.26,101.58 L283.45,101.50 L285.96,101.50 L286.14,101.44 L287.69,100.58 L287.90,100.50 L290.10,100.50 L291.44,99.52 L293.38,99.50 L293.56,99.44 L294.90,98.50 L297.29,98.49 L299.33,97.50 L301.69,97.50 L301.91,97.40 L303.14,96.56 L303.33,96.50 L305.34,96.50 L306.76,95.50 L308.68,95.50 L310.00,94.50 L311.89,94.50 L312.98,93.58 L313.15,93.50 L314.74,93.50 L314.93,93.41 L315.90,92.61 L316.11,92.50 L317.89,92.50 L318.10,92.40 L319.28,91.50 L321.06,91.50 L321.24,91.43 L322.50,90.53 L325.00,90.50 L326.33,89.85 L327.33,89.50 L331.88,89.50 L332.09,89.45 L332.54,89.24 L333.90,88.50 L336.17,88.48 L337.40,87.53 L339.33,87.50 L340.68,86.50 L342.67,86.50 L343.93,85.55 L344.10,85.50 L345.91,85.49 L347.11,84.50 L348.64,84.50 L348.82,84.33 L349.35,83.62 L349.55,83.50 L351.33,83.50 L351.53,83.40 L352.72,82.58 L352.91,82.50 L355.07,82.50 L356.69,81.52 L359.09,81.50 L359.31,81.42 L360.68,80.58 L360.90,80.50 L363.29,80.48 L364.90,79.52 L367.64,79.47 L369.54,78.50 L372.78,78.50 L375.36,77.53 L378.86,77.50 L379.08,77.47 L380.91,76.51 L383.31,76.50 L383.49,76.44 L384.92,75.50 L387.07,75.50 L388.66,74.53 L391.51,74.48 L393.91,73.50 L396.68,73.50 L396.88,73.46 L398.18,72.50 L400.47,72.49 L402.39,71.50 L405.54,71.47 L407.61,70.50 L410.46,70.50 L412.15,69.54 L412.35,69.50 L414.73,69.48 L416.33,68.51 L418.87,68.50 L419.09,68.47 L420.92,67.55 L421.14,67.50 L424.64,67.50 L427.22,66.51 L430.47,66.50 L431.87,65.54 L432.05,65.50 L433.89,65.50 L435.23,64.91 L436.29,64.66 L438.33,64.60 L439.11,64.50 L442.43,64.50 L442.79,64.30 L443.91,63.51 L445.86,63.50 L446.76,62.61 L446.94,62.50 L458.90,62.50 L459.49,62.25 L460.77,61.55 L460.95,61.50 L471.00,61.50" stroke="#00ffff" stroke-dasharray="4.17,1.39,0.69,1.39"/>
<path d="M230.40,228.00 L272.00,228.00" stroke="#ff0000"/>
<path d="M230.40,243.40 L272.00,243.40" stroke="#00ff00" stroke-dasharray="2.78,1.39"/>
<path d="M230.40,258.50 L272.00,258.50" stroke="#0000ff" stroke-dasharray="1.39,2.08"/>
<path d="M230.40,273.55 L272.00,273.55" stroke="#ff00ff" stroke-dasharray="0.69,1.04"/>
<path d="M230.40,289.30 L272.00,289.30" stroke="#00ffff" stroke-dasharray="4.17,1.39,0.69,1.39"/>
</g>
<g stroke="#000" stroke-width="0.9" fill="none">
<path d="M130.35,18.50 v2.20 M130.35,301.00 v-2.20"/>
<path d="M146.63,18.50 v2.20 M146.63,301.00 v-2.20"/>
<path d="M158.19,18.50 v2.20 M158.19,301.00 v-2.20"/>
<path d="M167.15,18.50 v2.20 M167.15,301.00 v-2.20"/>
<path d="M174.48,18.50 v2.20 M174.48,301.00 v-2.20"/>
<path d="M180.67,18.50 v2.20 M180.67,301.00 v-2.20"/>
<path d="M186.04,18.50 v2.20 M186.04,301.00 v-2.20"/>
<path d="M190.77,18.50 v2.20 M190.77,301.00 v-2.20"/>
<path d="M195.00,18.50 v4.40 M195.00,301.00 v-4.40"/>
<path d="M222.85,18.50 v2.20 M222.85,301.00 v-2.20"/>
<path d="M239.13,18.50 v2.20 M239.13,301.00 v-2.20"/>
<path d="M250.69,18.50 v2.20 M250.69,301.00 v-2.20"/>
<path d="M259.65,18.50 v2.20 M259.65,301.00 v-2.20"/>
<path d="M266.98,18.50 v2.20 M266.98,301.00 v-2.20"/>
<path d="M273.17,18.50 v2.20 M273.17,301.00 v-2.20"/>
<path d="M278.54,18.50 v2.20 M278.54,301.00 v-2.20"/>
<path d="M283.27,18.50 v2.20 M283.27,301.00 v-2.20"/>
<path d="M287.50,18.50 v4.40 M287.50,301.00 v-4.40"/>
<path d="M315.35,18.50 v2.20 M315.35,301.00 v-2.20"/>
<path d="M331.63,18.50 v2.20 M331.63,301.00 v-2.20"/>
<path d="M343.19,18.50 v2.20 M343.19,301.00 v-2.20"/>
<path d="M352.15,18.50 v2.20 M352.15,301.00 v-2.20"/>
<path d="M359.48,18.50 v2.20 M359.48,301.00 v-2.20"/>
<path d="M365.67,18.50 v2.20 M365.67,301.00 v-2.20"/>
<path d="M371.04,18.50 v2.20 M371.04,301.00 v-2.20"/>
<path d="M375.77,18.50 v2.20 M375.77,301.00 v-2.20"/>
<path d="M380.00,18.50 v4.40 M380.00,301.00 v-4.40"/>
<path d="M407.85,18.50 v2.20 M407.85,301.00 v-2.20"/>
<path d="M424.13,18.50 v2.20 M424.13,301.00 v-2.20"/>
<path d="M435.69,18.50 v2.20 M435.69,301.00 v-2.20"/>
<path d="M444.65,18.50 v2.20 M444.65,301.00 v-2.20"/>
<path d="M451.98,18.50 v2.20 M451.98,301.00 v-2.20"/>
<path d="M458.17,18.50 v2.20 M458.17,301.00 v-2.20"/>
<path d="M463.54,18.50 v2.20 M463.54,301.00 v-2.20"/>
<path d="M468.27,18.50 v2.20 M468.27,301.00 v-2.20"/>
<path d="M102.50,276.38 h2.20 M472.50,276.38 h-2.20"/>
<path d="M102.50,251.75 h4.40 M472.50,251.75 h-4.40"/>
<path d="M102.50,227.12 h2.20 M472.50,227.12 h-2.20"/>
<path d="M102.50,202.50 h4.40 M472.50,202.50 h-4.40"/>
<path d="M102.50,177.88 h2.20 M472.50,177.88 h-2.20"/>
<path d="M102.50,153.25 h4.40 M472.50,153.25 h-4.40"/>
<path d="M102.50,128.62 h2.20 M472.50,128.62 h-2.20"/>
<path d="M102.50,104.00 h4.40 M472.50,104.00 h-4.40"/>
<path d="M102.50,79.38 h2.20 M472.50,79.38 h-2.20"/>
<path d="M102.50,54.75 h4.40 M472.50,54.75 h-4.40"/>
<path d="M102.50,30.12 h2.20 M472.50,30.12 h-2.20"/>
</g>
<g fill="#000">
<rect x="102" y="18" width="371" height="1"/>
<rect x="102" y="18" width="1" height="283.5"/>
<rect x="472" y="18" width="1" height="283.5"/>
<rect x="102" y="300" width="371" height="2" fill="#000" fill-opacity="0.5"/>
</g>
</svg></body></html>
